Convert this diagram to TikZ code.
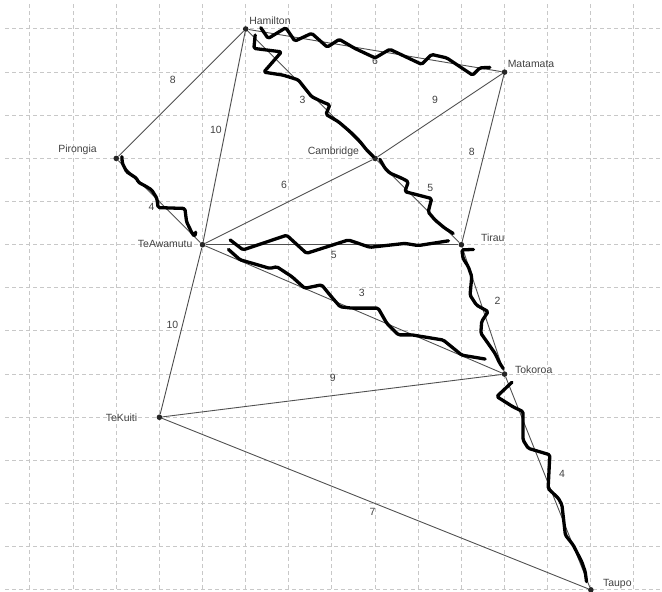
\documentclass[tikz,border=0pt]{standalone}
\usepackage{fontspec}
\setmainfont{Liberation Sans}
\definecolor{gitter}{RGB}{200,200,200}
\definecolor{kantenfarbe}{RGB}{80,80,80}
\definecolor{schrift}{RGB}{65,65,65}
\begin{document}
\begin{tikzpicture}[x=43.14bp, y=-43.14bp,
  every node/.style={font=\fontsize{10.5}{12}\selectfont, text=schrift},
  ort/.style={circle, fill=black!85, inner sep=0pt, minimum size=5.6bp},
  ortname/.style={inner sep=0pt, text height=7.5bp, text depth=0pt},
  gewicht/.style={inner sep=0pt, text height=7.5bp, text depth=0pt},
  kante/.style={kantenfarbe, line width=0.9bp},
  spur/.style={black, line width=3.3bp, line join=round, line cap=round, rounded corners=1.5bp}]
  \useasboundingbox (-0.695,-0.672) rectangle (14.65,13.05);
  % Hilfsraster
  \foreach \i in {0,...,14}{ \draw[gitter, line width=1bp, dash pattern=on 4bp off 3bp] (\i,-0.57) -- (\i,13.05); }
  \foreach \j in {0,...,13}{ \draw[gitter, line width=1bp, dash pattern=on 4bp off 3bp] (-0.57,\j) -- (14.65,\j); }
  % Orte
  \node[ort] (Ham) at (5,0) {};
  \node[ort] (Pir) at (2,3) {};
  \node[ort] (Cam) at (8,3) {};
  \node[ort] (Mat) at (11,1) {};
  \node[ort] (TeA) at (4,5) {};
  \node[ort] (Tir) at (10,5) {};
  \node[ort] (Tok) at (11,8) {};
  \node[ort] (TeK) at (3,9) {};
  \node[ort] (Tau) at (13,13) {};
  % Kanten
  \foreach \a/\b in {Ham/Pir, Ham/TeA, Ham/Mat, Ham/Cam, Pir/TeA, TeA/Cam, Cam/Mat, Mat/Tir,
                     Cam/Tir, TeA/Tir, TeA/Tok, TeA/TeK, Tir/Tok, TeK/Tok, TeK/Tau, Tok/Tau}
    \draw[kante] (\a) -- (\b);
  % Gewichte
  \foreach \x/\y/\w [count=\k] in {3.31/1.18/8, 4.31/2.34/10, 6.32/1.63/3, 8.00/0.73/6,
                     9.39/1.63/9, 10.24/2.84/8, 9.28/3.67/5, 5.89/3.62/6, 2.82/4.13/4,
                     7.04/5.24/5, 7.69/6.11/3, 10.84/6.30/2, 3.30/6.85/10, 7.02/8.09/9,
                     7.94/11.20/7, 12.33/10.31/4}
    \node[gewicht] (g\k) at (\x,\y) {\w};
  % Spur Hamilton - Matamata
  \draw[spur] (5.35,-0.03) -- (5.52,0.22) -- (5.93,-0.03) -- (6.14,0.28) -- (6.53,0.10) -- (6.89,0.42)
    -- (7.17,0.24) -- (7.53,0.45) -- (8.00,0.67) -- (8.34,0.47) -- (9.08,0.82) -- (9.31,0.59)
    -- (9.66,0.67) -- (10.26,1.07) -- (10.43,0.90) -- (10.66,0.89);
  % Spur Hamilton - Cambridge
  \draw[spur] (5.22,0.14) -- (5.19,0.45) -- (5.83,0.53) -- (5.42,1.00) -- (5.87,1.07) -- (6.22,1.18)
    -- (6.37,1.37) -- (6.53,1.57) -- (6.80,1.70) -- (6.95,1.76) -- (6.86,1.98) -- (7.15,2.15)
    -- (7.42,2.38) -- (7.65,2.61) -- (7.80,2.80) -- (7.96,2.96);
  % Spur Pirongia - TeAwamutu
  \draw[spur] (2.13,2.96) -- (2.14,3.11) -- (2.24,3.31) -- (2.47,3.46) -- (2.51,3.55) -- (2.71,3.66)
    -- (2.82,3.73) -- (2.94,3.92) -- (2.97,4.14) -- (3.59,4.16) -- (3.63,4.47) -- (3.76,4.74)
    -- (3.82,4.81) -- (3.84,4.71);
  % Spur Cambridge - Tirau
  \draw[spur] (8.11,3.02) -- (8.23,3.23) -- (8.34,3.34) -- (8.62,3.46) -- (8.77,3.54) -- (8.69,3.77)
    -- (9.00,3.85) -- (9.31,3.93) -- (9.23,4.24) -- (9.39,4.43) -- (9.62,4.62) -- (9.81,4.74);
  % Spur TeAwamutu - Tirau
  \draw[spur] (4.64,4.89) -- (4.94,5.12) -- (5.95,4.78) -- (6.41,5.20) -- (7.38,4.89) -- (7.88,5.06)
    -- (8.69,4.97) -- (9.00,5.02) -- (9.70,4.91);
  % Spur TeAwamutu - Tokoroa
  \draw[spur] (4.60,5.11) -- (4.87,5.35) -- (5.29,5.47) -- (5.56,5.55) -- (5.72,5.51) -- (6.07,5.74)
    -- (6.37,6.01) -- (6.76,5.93) -- (6.99,6.21) -- (7.19,6.44) -- (7.46,6.47) -- (8.07,6.47)
    -- (8.27,6.82) -- (8.54,7.09) -- (8.85,7.09) -- (9.58,7.21) -- (10.01,7.56) -- (10.55,7.65);
  % Spur Tirau - Tokoroa
  \draw[spur] (10.28,5.11) -- (10.01,5.12) -- (10.04,5.32) -- (10.16,5.51) -- (10.24,5.74) -- (10.20,6.17)
    -- (10.35,6.40) -- (10.62,6.55) -- (10.47,6.78) -- (10.45,7.05) -- (10.62,7.29) -- (10.78,7.52)
    -- (10.89,7.75) -- (10.97,7.87);
  % Spur Tokoroa - Taupo
  \draw[spur] (11.17,8.19) -- (10.82,8.52) -- (11.20,8.76) -- (11.43,8.87) -- (11.43,9.53) -- (11.55,9.72)
    -- (12.05,9.87) -- (12.01,10.65) -- (12.25,10.88) -- (12.33,11.03) -- (12.41,11.73) -- (12.59,11.96)
    -- (12.79,12.35) -- (12.87,12.58) -- (12.90,12.81);
  % Ortsnamen
  \node[ortname, anchor=west] (nHam) at (5.08,-0.19) {Hamilton};
  \node[ortname, anchor=east] (nPir) at (1.55,2.77) {Pirongia};
  \node[ortname, anchor=east] (nCam) at (7.63,2.83) {Cambridge};
  \node[ortname, anchor=west] (nMat) at (11.07,0.80) {Matamata};
  \node[ortname, anchor=east] (nTeA) at (3.77,4.97) {TeAwamutu};
  \node[ortname, anchor=west] (nTir) at (10.45,4.85) {Tirau};
  \node[ortname, anchor=west] (nTok) at (11.24,7.90) {Tokoroa};
  \node[ortname, anchor=east] (nTeK) at (2.49,9.02) {TeKuiti};
  \node[ortname, anchor=west] (nTau) at (13.28,12.83) {Taupo};
\end{tikzpicture}
\end{document}
